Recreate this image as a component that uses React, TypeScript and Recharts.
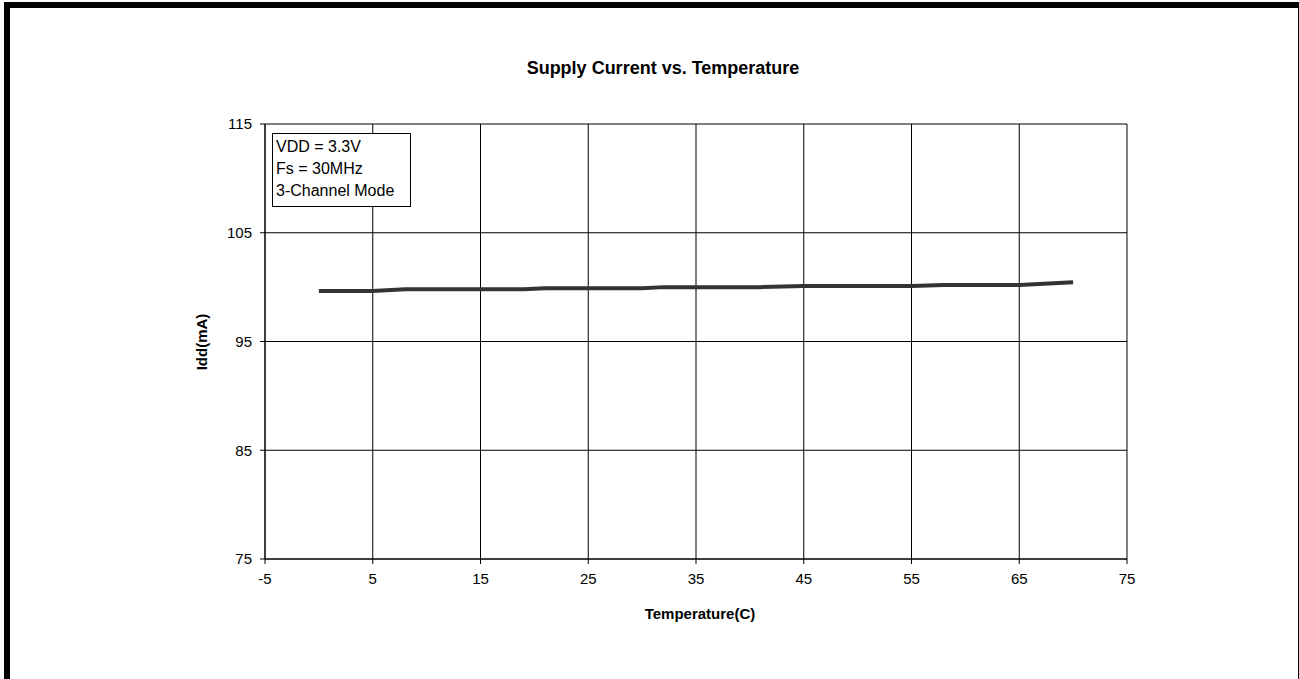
import { LineChart, Line, XAxis, YAxis, CartesianGrid } from 'recharts'

const temps = [0, 5, 8, 19, 21, 30, 32, 41, 45, 55, 58, 65, 70]
const idd = [99.65, 99.65, 99.8, 99.8, 99.9, 99.9, 100.0, 100.0, 100.1, 100.1, 100.2, 100.2, 100.45]
const xTicks = [-5, 5, 15, 25, 35, 45, 55, 65, 75]
const yTicks = [75, 85, 95, 105, 115]
const noteLines = ['VDD = 3.3V', 'Fs = 30MHz', '3-Channel Mode']

const data = temps.map((t, i) => ({ t, idd: idd[i] }))

const font = 'Arial, "Liberation Sans", sans-serif'
const tickStyle = { fill: '#000', fontSize: 15, fontFamily: font }

export default function App() {
  return (
    <div style={{ position: 'fixed', left: 0, top: 0, width: 1299, height: 679, overflow: 'hidden', background: '#fff', fontFamily: font }}>
      <div style={{ position: 'absolute', left: 4, top: 2, width: 1300, height: 720, border: '6px solid #000', boxSizing: 'border-box' }} />
      <div style={{ position: 'absolute', left: 0, top: 58, width: 1326, textAlign: 'center', fontWeight: 'bold', fontSize: 18 }}>
        Supply Current vs. Temperature
      </div>
      <LineChart width={1299} height={679} data={data} margin={{ top: 124, right: 172, bottom: 90, left: 205 }}>
        <CartesianGrid stroke="#000" strokeWidth={1} />
        <XAxis
          dataKey="t"
          type="number"
          domain={[-5, 75]}
          ticks={xTicks}
          height={30}
          tickSize={5}
          tickMargin={9}
          stroke="#000"
          tick={tickStyle}
        />
        <YAxis
          type="number"
          domain={[75, 115]}
          ticks={yTicks}
          width={60}
          tickSize={5}
          tickMargin={8}
          stroke="#000"
          tick={tickStyle}
        />
        <Line dataKey="idd" type="linear" stroke="#333" strokeWidth={4} dot={false} isAnimationActive={false} />
      </LineChart>
      <div style={{ position: 'absolute', left: 201, top: 342, transform: 'translate(-50%, -50%) rotate(-90deg)', fontWeight: 'bold', fontSize: 15, whiteSpace: 'nowrap' }}>
        Idd(mA)
      </div>
      <div style={{ position: 'absolute', left: 700, top: 613, transform: 'translate(-50%, -50%)', fontWeight: 'bold', fontSize: 15, whiteSpace: 'nowrap' }}>
        Temperature(C)
      </div>
      <div style={{ position: 'absolute', left: 272, top: 133, width: 139, height: 74, border: '1px solid #000', boxSizing: 'border-box', background: '#fff', padding: '2px 3px', fontSize: 16, lineHeight: '22px' }}>
        {noteLines.map((l) => (
          <div key={l}>{l}</div>
        ))}
      </div>
    </div>
  )
}
